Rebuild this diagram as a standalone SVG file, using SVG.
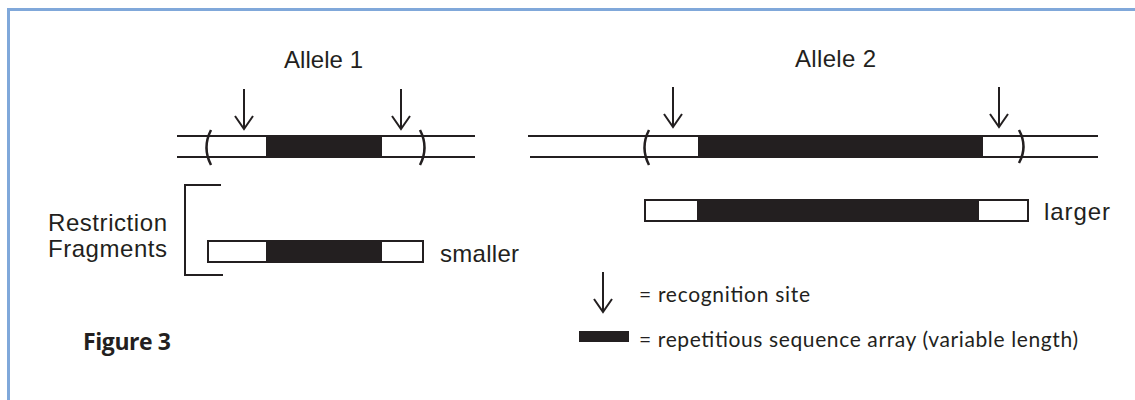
<svg xmlns="http://www.w3.org/2000/svg" width="1135" height="400" viewBox="0 0 1135 400">
<style>
.ln{stroke:#231f20;stroke-width:2;fill:none}
.paren{stroke:#231f20;stroke-width:2.5;fill:none}
.blk{fill:#231f20}
.frag{fill:#fff;stroke:#231f20;stroke-width:2}
.t{font-family:"Liberation Sans",Arial,sans-serif;fill:#231f20}
.lg{font-family:Lato,"Liberation Sans",sans-serif;fill:#231f20;font-size:21px}
.fig{font-family:"Open Sans","Liberation Sans",sans-serif;font-weight:bold;fill:#231f20;font-size:23px}
</style>
<defs>
<g id="arrow">
<line x1="0" y1="0" x2="0" y2="40" class="ln"/>
<polyline points="-9,27 0,40 9,27" class="ln"/>
</g>
</defs>
<rect width="1135" height="400" fill="#fff"/>
<path d="M8.5 400 V9.5 H1135" fill="none" stroke="#80a8da" stroke-width="3"/>

<g id="allele1">
<text class="t" x="284" y="68" font-size="24" textLength="79">Allele 1</text>
<line x1="177" y1="136" x2="475" y2="136" class="ln"/>
<line x1="177" y1="157" x2="475" y2="157" class="ln"/>
<rect x="266" y="135" width="116" height="22" class="blk"/>
<path d="M211 130 Q202 147.5 211 165" class="paren"/>
<path d="M420 130 Q429 147.5 420 165" class="paren"/>
<use href="#arrow" x="244" y="89"/>
<use href="#arrow" x="401" y="89"/>
</g>

<g id="allele2">
<text class="t" x="795" y="67" font-size="24" textLength="81">Allele 2</text>
<line x1="528" y1="136" x2="1098" y2="136" class="ln"/>
<line x1="530" y1="157" x2="1098" y2="157" class="ln"/>
<rect x="698" y="135" width="285" height="22" class="blk"/>
<path d="M649 130 Q640 147.5 649 165" class="paren"/>
<path d="M1019 130 Q1028 146.5 1019 163" class="paren"/>
<use href="#arrow" x="673" y="87"/>
<use href="#arrow" x="999" y="87"/>
</g>

<g id="fragments">
<path d="M221 185 H185 V275 H223" class="ln"/>
<text class="t" x="48" y="231" font-size="24" textLength="119">Restriction</text>
<text class="t" x="48" y="257" font-size="24" textLength="119">Fragments</text>
</g>

<g id="small-fragment">
<rect x="208" y="241" width="215" height="21" class="frag"/>
<rect x="266" y="241" width="116" height="21" class="blk"/>
<text class="t" x="440" y="262" font-size="24" textLength="79">smaller</text>
</g>

<g id="large-fragment">
<rect x="645" y="200" width="383" height="21" class="frag"/>
<rect x="697" y="200" width="282" height="21" class="blk"/>
<text class="t" x="1044" y="220" font-size="24" textLength="66">larger</text>
</g>

<g id="legend">
<use href="#arrow" x="603" y="272"/>
<text class="lg" x="639" y="302" textLength="171">= recognition site</text>
<rect x="579" y="331" width="50" height="11" class="blk"/>
<text class="lg" x="639" y="347" textLength="439">= repetitious sequence array (variable length)</text>
</g>

<g id="caption">
<text class="fig" x="83" y="350" textLength="88">Figure 3</text>
</g>
</svg>
